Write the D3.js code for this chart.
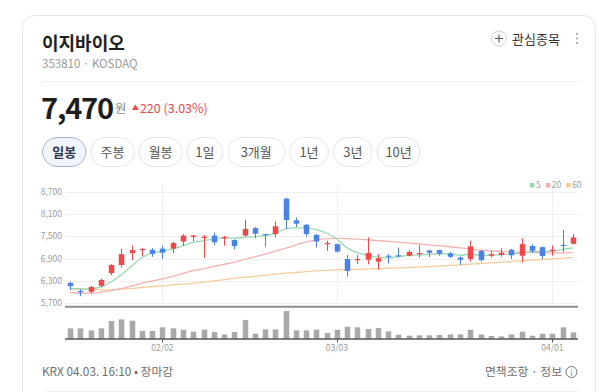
<!DOCTYPE html>
<html><head><meta charset="utf-8">
<script src="https://cdn.jsdelivr.net/npm/d3@7"></script>
<style>
html,body{margin:0;padding:0;background:#fff;}
svg{display:block;font-family:"Noto Sans CJK KR","Noto Sans",sans-serif;}
</style></head><body>
<svg id="c" width="600" height="392"></svg>
<script>
// ---------- data ----------
const dates=["01/20","01/21","01/22","01/23","01/26","01/27","01/28","01/29","01/30","02/02","02/03","02/04","02/05","02/06","02/09","02/10","02/11","02/12","02/13","02/19","02/20","02/23","02/24","02/25","02/26","02/27","03/03","03/04","03/05","03/06","03/09","03/10","03/11","03/12","03/13","03/16","03/17","03/18","03/19","03/20","03/23","03/24","03/25","03/26","03/27","03/30","03/31","04/01","04/02","04/03"];
const open =[6250,6030,6010,6170,6510,6730,7050,7130,7140,7170,7170,7360,7480,7460,7520,7450,7400,7520,7720,7560,7560,8510,7930,7810,7540,7300,7290,6890,6870,6870,6820,6980,6990,6980,7020,7120,7130,7040,6930,6890,7110,6980,7000,7140,6980,7240,7210,7110,7270,7300];
const high =[6280,6080,6170,6360,6760,7160,7250,7180,7180,7240,7360,7560,7540,7540,7600,7510,7420,7950,7750,7570,7900,8540,8010,7830,7560,7380,7310,7000,7000,7470,7020,7020,7200,7130,7270,7140,7140,7080,6960,7380,7140,7110,7180,7160,7450,7290,7230,7250,7670,7560];
const low  =[6060,5890,5970,6130,6460,6660,6860,6970,6950,6890,7050,7240,7360,6920,7270,7250,7150,7500,7450,7220,7470,7700,7750,7490,7200,7110,7060,6420,6750,6750,6600,6770,6930,6960,6930,6940,6980,6920,6730,6820,6820,6930,6950,6890,6800,7050,6890,6980,7070,7280];
const close=[6160,6000,6140,6330,6730,7020,7130,7160,7030,7060,7320,7520,7520,7490,7340,7480,7240,7700,7570,7540,7770,7940,7840,7560,7360,7320,7090,6570,6890,7050,6910,6960,6970,7080,7050,7060,7030,6950,6870,7230,6860,7020,7060,6990,7290,7110,6970,7140,7250,7470];
const volume=[258,258,208,258,443,483,450,193,193,283,258,225,175,225,168,108,168,468,125,233,233,693,208,208,225,143,225,300,283,243,268,183,100,75,83,83,93,108,108,225,108,68,58,108,175,75,125,125,283,158];
const ma5 =[6100,6090,6090,6140,6280,6470,6700,6930,7050,7100,7160,7250,7340,7380,7430,7460,7450,7470,7490,7520,7580,7700,7730,7730,7680,7590,7430,7190,7060,6990,6940,6920,6960,6990,7000,7020,7030,7030,6990,7020,6990,6990,7010,7030,7050,7090,7090,7100,7150,7190];
const ma20=[5990,5970,5970,6000,6040,6095,6165,6240,6300,6355,6425,6505,6580,6625,6690,6750,6800,6880,6950,7020,7100,7180,7270,7350,7400,7440,7445,7440,7425,7405,7385,7365,7345,7320,7295,7270,7245,7220,7190,7160,7130,7110,7095,7080,7068,7060,7056,7056,7058,7065];
const ma60=[6080,6075,6070,6065,6060,6080,6100,6125,6150,6170,6195,6215,6240,6265,6300,6335,6370,6400,6425,6455,6485,6510,6530,6550,6570,6585,6597,6605,6615,6624,6633,6642,6651,6663,6675,6687,6702,6717,6735,6752,6770,6788,6806,6824,6842,6860,6878,6896,6915,6935];
const yTicks=[5700,6300,6900,7500,8100,8700];
const xTicks=["02/02","03/03","04/01"];
const tabs=["일봉","주봉","월봉","1일","3개월","1년","3년","10년"];
const maNames=["5","20","60"];
const maColors=["#98dab0","#f2b3b3","#f5cd9c"];

// ---------- drawing ----------
const svg=d3.select("#c");
const UP="#f0474a", DOWN="#4a82e6";

svg.append("rect").attr("x",22.5).attr("y",15.5).attr("width",573).attr("height",440)
  .attr("rx",12).attr("fill","#fff").attr("stroke","#e6e6e6");

// header
svg.append("text").attr("x",42).attr("y",50).attr("font-size",18).attr("font-weight",700)
  .attr("fill","#1e1e1e").text("이지바이오");
svg.append("text").attr("x",42).attr("y",68).attr("font-size",11.5).attr("fill","#9a9a9a")
  .text("353810 · KOSDAQ");
svg.append("line").attr("x1",42).attr("x2",578).attr("y1",81.5).attr("y2",81.5).attr("stroke","#eeeeee");

const price=svg.append("text").attr("x",41).attr("y",119).attr("font-size",29).attr("font-weight",700)
  .attr("fill","#1e1e1e").attr("letter-spacing",-1.2).text("7,470");
const pw=price.node().getComputedTextLength();
svg.append("text").attr("x",41+pw+2).attr("y",113).attr("font-size",12.5).attr("fill","#8a8a8a").text("원");
svg.append("path").attr("d",`M${41+pw+19},${110} l3.5,-5.5 l3.5,5.5 z`).attr("fill",UP);
svg.append("text").attr("x",41+pw+27).attr("y",113).attr("font-size",12.5).attr("fill",UP).text("220 (3.03%)");

// right header
svg.append("circle").attr("cx",499).attr("cy",38.5).attr("r",7.5).attr("fill","#fff").attr("stroke","#cfcfcf");
svg.append("path").attr("d","M495,38.5 h8 M499,34.5 v8").attr("stroke","#555").attr("stroke-width",1.1);
svg.append("text").attr("x",512).attr("y",44).attr("font-size",13).attr("fill","#333").text("관심종목");
[34,38.5,43].forEach(cy=>svg.append("circle").attr("cx",577).attr("cy",cy).attr("r",1).attr("fill","#999"));

// tabs
const tabW=[43.5,43.5,43,36,57,39,39,43];
let tx=42.5;
tabs.forEach((t,i)=>{
  const w=tabW[i];
  svg.append("rect").attr("x",tx).attr("y",137.5).attr("width",w).attr("height",29).attr("rx",14.5)
    .attr("fill",i===0?"#f1f4fa":"#fff").attr("stroke",i===0?"#aab6d0":"#e5e5e5");
  svg.append("text").attr("x",tx+w/2).attr("y",156.5).attr("font-size",13).attr("font-weight",i===0?700:400)
    .attr("fill",i===0?"#2a3550":"#555").attr("text-anchor","middle").text(t);
  tx+=w+4.8;
});

// chart scales
const x=d3.scaleBand().domain(dates).range([65,578]);
const bw=x.bandwidth(), cx=d=>x(d)+bw/2;
const y=d3.scaleLinear().domain([5700,8700]).range([303.3,191.7]);
const yv=d3.scaleLinear().domain([0,742]).range([338.7,309]);

// grid
svg.append("g").selectAll("line").data(yTicks).join("line")
  .attr("x1",65).attr("x2",578).attr("y1",d=>Math.round(y(d))+0.5).attr("y2",d=>Math.round(y(d))+0.5)
  .attr("stroke","#efefef");
svg.append("g").selectAll("line").data(xTicks).join("line")
  .attr("x1",d=>Math.round(cx(d))+0.5).attr("x2",d=>Math.round(cx(d))+0.5).attr("y1",185).attr("y2",304)
  .attr("stroke","#efefef");
svg.append("g").selectAll("text").data(yTicks).join("text")
  .attr("x",62).attr("y",d=>y(d)+3).attr("text-anchor","end").attr("font-size",8.5).attr("fill","#9a9a9a")
  .text(d=>d3.format(",")(d));

// legend
let lx=530;
maNames.forEach((n,i)=>{
  svg.append("rect").attr("x",lx).attr("y",183).attr("width",4.5).attr("height",4.5).attr("fill",maColors[i]);
  const t=svg.append("text").attr("x",lx+6).attr("y",188).attr("font-size",8.5).attr("fill","#a0a0a0").text(n);
  lx+=6+t.node().getComputedTextLength()+5;
});

// MA lines
[ma60,ma20,ma5].forEach((arr,k)=>{
  const col=[maColors[2],maColors[1],maColors[0]][k];
  svg.append("path").datum(arr).attr("fill","none").attr("stroke",col).attr("stroke-width",1.3)
    .attr("d",d3.line().x((d,i)=>cx(dates[i])).y(d=>y(d)).curve(d3.curveMonotoneX));
});

// candles
const idx=d3.range(dates.length);
const cg=svg.append("g");
cg.selectAll("line").data(idx).join("line")
  .attr("x1",i=>Math.round(cx(dates[i]))+0.5).attr("x2",i=>Math.round(cx(dates[i]))+0.5)
  .attr("y1",i=>y(high[i])).attr("y2",i=>y(low[i]))
  .attr("stroke",i=>close[i]>=open[i]?UP:DOWN).attr("stroke-width",1);
const bodyW=5.5;
cg.selectAll("rect").data(idx).join("rect")
  .attr("x",i=>Math.round(cx(dates[i]))+0.5-bodyW/2).attr("width",bodyW)
  .attr("y",i=>y(Math.max(open[i],close[i])))
  .attr("height",i=>Math.max(1.2,Math.abs(y(open[i])-y(close[i]))))
  .attr("fill",i=>close[i]>=open[i]?UP:DOWN);

// separator
svg.append("line").attr("x1",65).attr("x2",578).attr("y1",306.7).attr("y2",306.7).attr("stroke","#8e8e8e").attr("stroke-width",2);

// volume
svg.append("g").selectAll("rect").data(idx).join("rect")
  .attr("x",i=>Math.round(cx(dates[i]))+0.5-bodyW/2).attr("width",bodyW)
  .attr("y",i=>yv(volume[i])).attr("height",i=>yv(0)-yv(volume[i])).attr("fill","#a9a9a9");
svg.append("line").attr("x1",65).attr("x2",578).attr("y1",339).attr("y2",339).attr("stroke","#555").attr("stroke-width",1.3);
svg.append("g").selectAll("line").data(xTicks).join("line")
  .attr("x1",d=>Math.round(cx(d))+0.5).attr("x2",d=>Math.round(cx(d))+0.5).attr("y1",339).attr("y2",342.5)
  .attr("stroke","#555");
svg.append("g").selectAll("text").data(xTicks).join("text")
  .attr("x",d=>cx(d)).attr("y",350.5).attr("text-anchor","middle").attr("font-size",8.5).attr("fill","#9a9a9a")
  .text(d=>d);

// footer
svg.append("text").attr("x",42).attr("y",376).attr("font-size",11.8).attr("fill","#6e6e6e").text("KRX 04.03. 16:10 • 장마감");
svg.append("text").attr("x",562).attr("y",376).attr("text-anchor","end").attr("font-size",11.8).attr("fill","#6e6e6e").text("면책조항 · 정보");
svg.append("circle").attr("cx",571.5).attr("cy",372).attr("r",5.5).attr("fill","none").attr("stroke","#777");
svg.append("text").attr("x",571.5).attr("y",375.5).attr("text-anchor","middle").attr("font-size",8).attr("fill","#777").text("i");
svg.append("line").attr("x1",46).attr("x2",578).attr("y1",391.5).attr("y2",391.5).attr("stroke","#f0f0f0");
</script>
</body></html>
